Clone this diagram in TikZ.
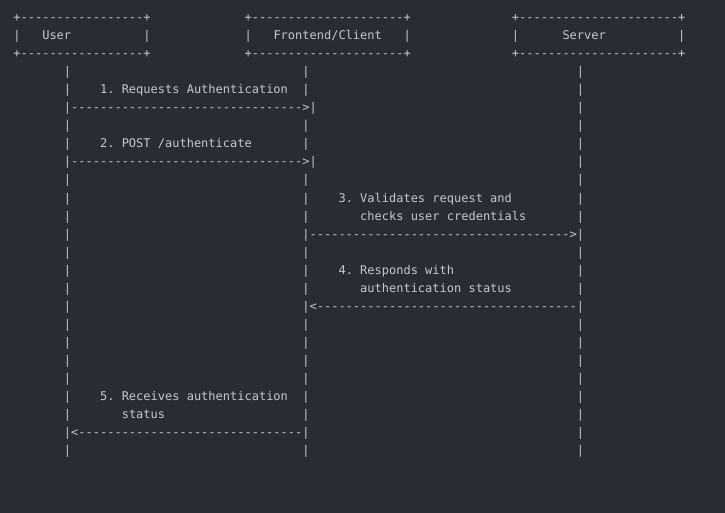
\documentclass[tikz,border=0pt]{standalone}
\usepackage{fontspec}
\setmonofont{DejaVu Sans Mono}
\definecolor{bg}{HTML}{282C34}
\definecolor{fg}{HTML}{C8C8C8}
\newcommand\dsh[1]{\foreach\i in {1,...,#1}{-}}
\newcommand\cell[4]{\node[txt, name=#1] at ({13.4+#2*7.225},{22+18*#3}) {#4};}
\begin{document}
\begin{tikzpicture}[x=1pt,y=-1pt,
  txt/.style={anchor=base west, inner sep=0pt, outer sep=0pt, text=fg,
              font=\ttfamily\fontsize{12}{14}\selectfont}]
\fill[bg] (0,0) rectangle (725,513);
\useasboundingbox (0,0) rectangle (725,513);
% boxes
\cell{userTop}{0}{0}{+\dsh{17}+}
\cell{userL}{0}{1}{|}
\cell{userName}{4}{1}{User}
\cell{userR}{18}{1}{|}
\cell{userBot}{0}{2}{+\dsh{17}+}
\cell{feTop}{32}{0}{+\dsh{21}+}
\cell{feL}{32}{1}{|}
\cell{feName}{36}{1}{Frontend/Client}
\cell{feR}{54}{1}{|}
\cell{feBot}{32}{2}{+\dsh{21}+}
\cell{svTop}{69}{0}{+\dsh{22}+}
\cell{svL}{69}{1}{|}
\cell{svName}{76}{1}{Server}
\cell{svR}{92}{1}{|}
\cell{svBot}{69}{2}{+\dsh{22}+}
% lifelines
\foreach \r in {3,4,6,7,9,10,11,12,13,14,15,16,17,18,19,20,21,22,24}{\cell{ul\r}{7}{\r}{|}}
\foreach \r in {3,4,6,7,9,10,11,13,14,15,17,18,19,20,21,22,24}{\cell{fl\r}{40}{\r}{|}}
\foreach \r in {3,4,5,6,7,8,9,10,11,13,14,15,17,18,19,20,21,22,23,24}{\cell{sl\r}{78}{\r}{|}}
% messages
\cell{m1}{12}{4}{1. Requests Authentication}
\cell{a1}{7}{5}{|\dsh{32}>|}
\cell{m2}{12}{7}{2. POST /authenticate}
\cell{a2}{7}{8}{|\dsh{32}>|}
\cell{m3a}{45}{10}{3. Validates request and}
\cell{m3b}{48}{11}{checks user credentials}
\cell{a3}{40}{12}{|\dsh{36}>|}
\cell{m4a}{45}{14}{4. Responds with}
\cell{m4b}{48}{15}{authentication status}
\cell{a4}{40}{16}{|<\dsh{36}|}
\cell{m5a}{12}{21}{5. Receives authentication}
\cell{m5b}{15}{22}{status}
\cell{a5}{7}{23}{|<\dsh{31}|}
\end{tikzpicture}
\end{document}
